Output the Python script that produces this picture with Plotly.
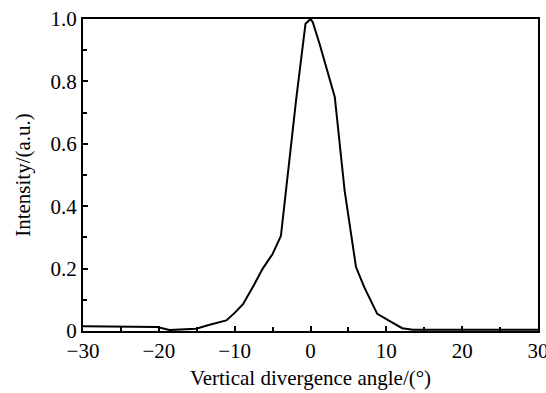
import plotly.graph_objects as go

angle = [-30, -20.2, -18.6, -15.1, -13.3, -11.1, -10.0, -8.9, -7.4, -6.3, -5.0, -3.9,
         -1.9, -0.66, 0.0, 0.3, 1.2, 3.2, 4.5, 6.0, 7.1, 8.8, 10.8, 12.1, 13.5, 30]
intensity = [0.015, 0.013, 0.003, 0.007, 0.02, 0.034, 0.058, 0.086, 0.15, 0.20, 0.247, 0.305,
             0.74, 0.985, 1.0, 0.99, 0.92, 0.75, 0.45, 0.205, 0.14, 0.055, 0.027, 0.009, 0.004, 0.004]

x_ticks = [-30, -20, -10, 0, 10, 20, 30]
x_labels = ["\u221230", "\u221220", "\u221210", "0", "10", "20", "30"]
y_ticks = [0, 0.2, 0.4, 0.6, 0.8, 1.0]
y_labels = ["0", "0.2", "0.4", "0.6", "0.8", "1.0"]

fig = go.Figure()
fig.add_trace(go.Scatter(x=angle, y=intensity, mode="lines",
                         line=dict(color="black", width=2), showlegend=False))

font = dict(family="Liberation Serif, Times New Roman, serif", size=21, color="black")

fig.update_layout(
    width=546, height=393,
    margin=dict(l=83, r=8, t=19, b=62),
    paper_bgcolor="white", plot_bgcolor="white",
    font=font,
)
fig.update_xaxes(
    range=[-30, 30], tickvals=x_ticks, ticktext=x_labels,
    ticks="inside", ticklen=5, tickwidth=1.5, tickcolor="black",
    minor=dict(dtick=5, tick0=-30, ticks="inside", ticklen=4, tickwidth=1.5, tickcolor="black"),
    showline=True, linecolor="black", linewidth=2, mirror=True,
    showgrid=False, zeroline=False, ticklabeloverflow="allow", automargin=False,
    title=dict(text="Vertical divergence angle/(°)", font=font, standoff=8),
    tickfont=font,
)
fig.update_yaxes(
    range=[0, 1.0], tickvals=y_ticks, ticktext=y_labels,
    ticks="inside", ticklen=5, tickwidth=1.5, tickcolor="black",
    minor=dict(dtick=0.1, tick0=0, ticks="inside", ticklen=4, tickwidth=1.5, tickcolor="black"),
    showline=True, linecolor="black", linewidth=2, mirror=True,
    showgrid=False, zeroline=False, automargin=False,
    title=dict(text="Intensity/(a.u.)", font=font, standoff=14),
    tickfont=font,
)

fig.write_html("out.html")
